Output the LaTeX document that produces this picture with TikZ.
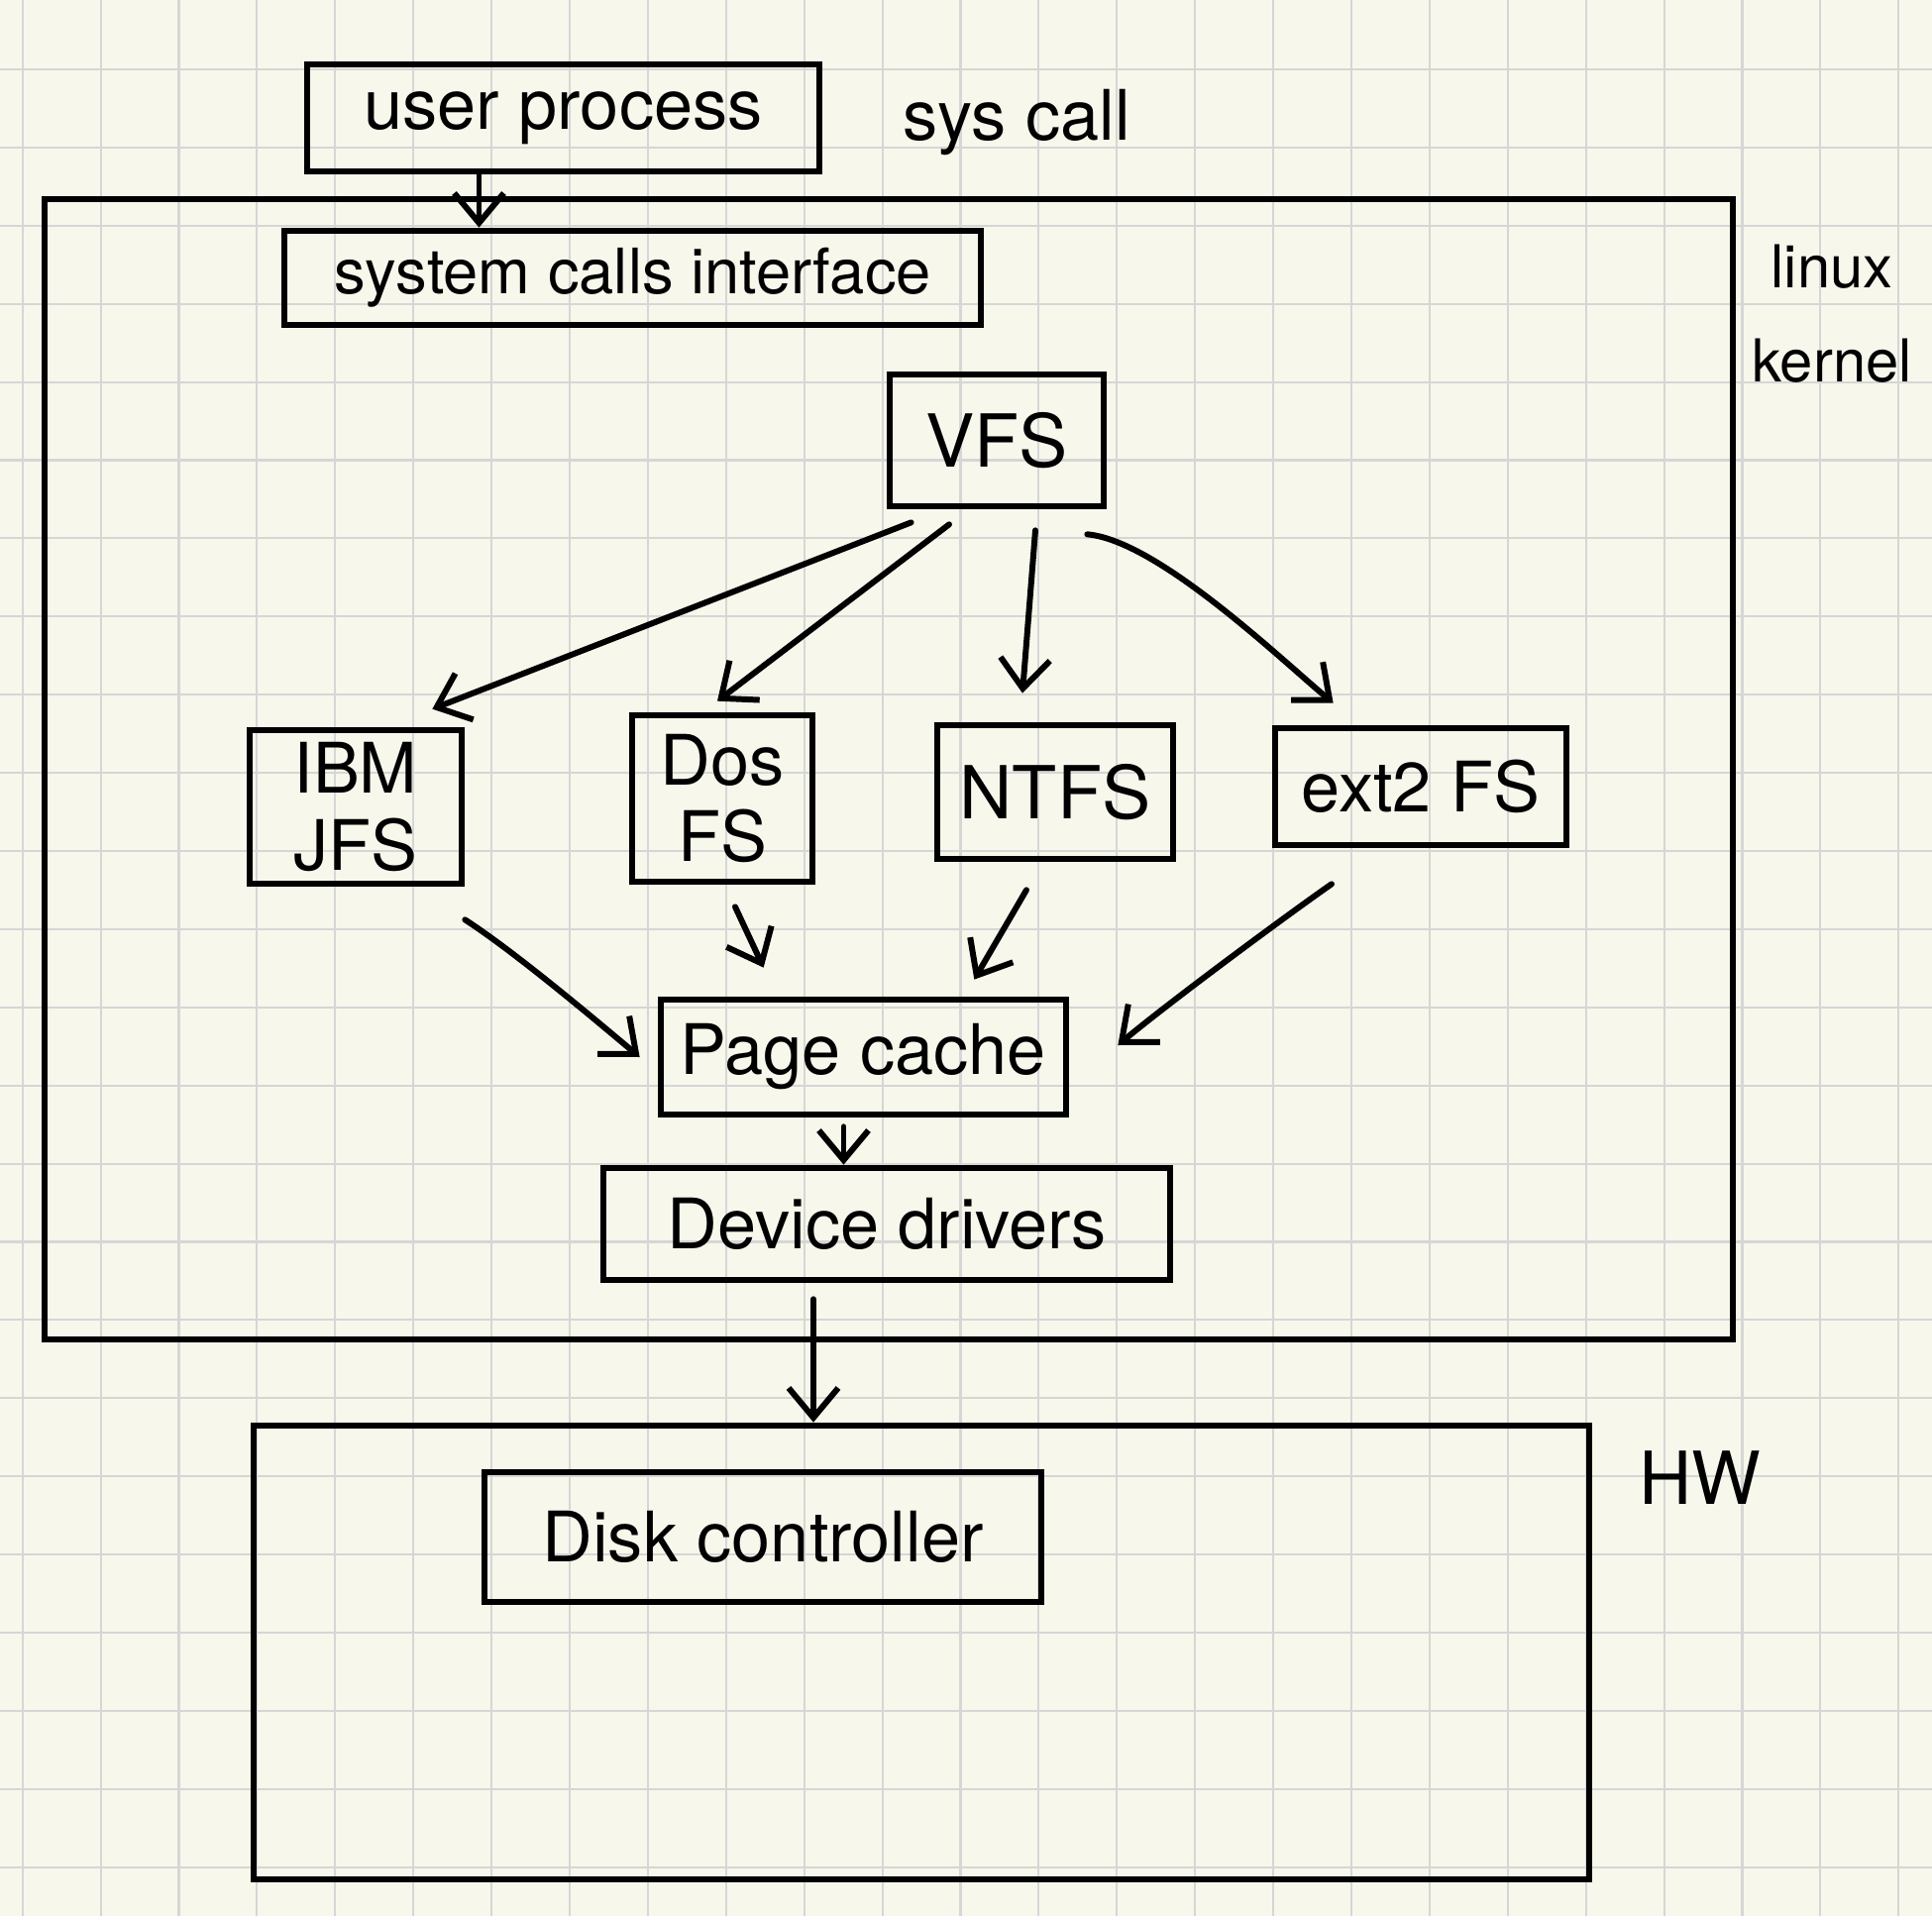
\documentclass[tikz,border=0pt]{standalone}
\usepackage{fontspec}
\setmainfont{TeX Gyre Heros}
\usetikzlibrary{arrows.meta}
\definecolor{paper}{RGB}{247,247,236}
\definecolor{gridgray}{RGB}{214,214,214}
\tikzset{boxy/.style={draw,rectangle,line width=1.9pt,inner sep=0,align=center,font=\fontsize{20}{22}\selectfont},
    frame/.style={draw,rectangle,line width=1.9pt,inner sep=0},
    lbl/.style={inner sep=0,align=center,font=\fontsize{20}{27}\selectfont},
    arr/.style={-{Straight Barb[length=3mm,width=5mm]},line width=1.7pt,line cap=round},
    gridline/.style={gridgray,line width=0.6pt}
}
\begin{document}
\begin{tikzpicture}

\useasboundingbox [fill=paper] (0,0) rectangle (19.5,-19.34);
\foreach \i in {0,...,24}
    \draw [gridline] ({0.227+0.789*\i},0) -- ({0.227+0.789*\i},-19.34);
\foreach \i in {0,...,23}
    \draw [gridline] (0,{-0.70-0.789*\i}) -- (19.5,{-0.70-0.789*\i});

% frames
\node (kernel) [frame,minimum width=17.04cm,minimum height=11.51cm] at (8.97,-7.765) {};
\node (hw) [frame,minimum width=13.48cm,minimum height=4.58cm] at (9.30,-16.68) {};

\node (user) [boxy,minimum width=5.17cm,minimum height=1.08cm] at (5.685,-1.19) {user process};
\node (sci) [boxy,minimum width=7.03cm,minimum height=0.95cm,font=\fontsize{18}{20}\selectfont] at (6.385,-2.805) {system calls interface};
\node (vfs) [boxy,minimum width=2.16cm,minimum height=1.33cm,font=\fontsize{21}{23}\selectfont] at (10.06,-4.445) {VFS};
\node (ibm) [boxy,minimum width=2.14cm,minimum height=1.55cm] at (3.59,-8.145) {IBM\\JFS};
\node (dos) [boxy,minimum width=1.82cm,minimum height=1.68cm] at (7.29,-8.06) {Dos\\FS};
\node (ntfs) [boxy,minimum width=2.38cm,minimum height=1.35cm,font=\fontsize{21}{23}\selectfont] at (10.65,-7.995) {NTFS};
\node (ext) [boxy,minimum width=2.94cm,minimum height=1.18cm,font=\fontsize{20}{22}\selectfont] at (14.34,-7.94) {ext2 FS};
\node (page) [boxy,minimum width=4.09cm,minimum height=1.16cm] at (8.715,-10.67) {Page cache};
\node (dev) [boxy,minimum width=5.72cm,minimum height=1.13cm] at (8.95,-12.355) {Device drivers};
\node (disk) [boxy,minimum width=5.62cm,minimum height=1.31cm] at (7.70,-15.515) {Disk controller};

\node (syscall) [lbl] at (10.26,-1.24) {sys call};
\node (kernlbl) [lbl,font=\fontsize{17}{27}\selectfont] at (18.49,-3.17) {linux\\kernel};
\node (hwlbl) [lbl,font=\fontsize{21}{23}\selectfont] at (17.16,-14.92) {HW};

% arrows
\draw [arr] ([xshift=-0.85cm]user.south) -- ([xshift=-0.85cm]user.south |- sci.north);
\draw [arr] ([shift={(0.25,-0.13)}]vfs.south west) -- ([shift={(-0.33,0.18)}]ibm.north east);
\draw [arr] ([shift={(-0.48,-0.15)}]vfs.south) -- ([shift={(-0.05,0.11)}]dos.north);
\draw [arr] ([shift={(0.39,-0.21)}]vfs.south) -- ([shift={(-0.33,0.29)}]ntfs.north);
\draw [arr] ([shift={(-0.2,-0.25)}]vfs.south east) to [out=-5,in=140,looseness=0.6] ([shift={(0.62,0.22)}]ext.north west);

\draw [arr] ([shift={(0,-0.33)}]ibm.south east) to [out=-33,in=140,looseness=0.7] ([shift={(-0.18,0)}]page.west);
\draw [arr] ([shift={(0.13,-0.22)}]dos.south) -- ([shift={(1.07,0.29)}]page.north west);
\draw [arr] ([shift={(-0.29,-0.28)}]ntfs.south) -- ([shift={(-0.96,0.17)}]page.north east);
\draw [arr] ([shift={(-0.90,-0.36)}]ext.south) to [out=-145,in=40,looseness=0.6] ([shift={(0.49,0.12)}]page.east);

\draw [arr] ([shift={(-0.2,-0.09)}]page.south) -- ([xshift=-0.2cm]page.south |- dev.north);
\draw [arr] ([shift={(-0.74,-0.16)}]dev.south) -- ([xshift=-0.74cm]dev.south |- hw.north);

\end{tikzpicture}
\end{document}
